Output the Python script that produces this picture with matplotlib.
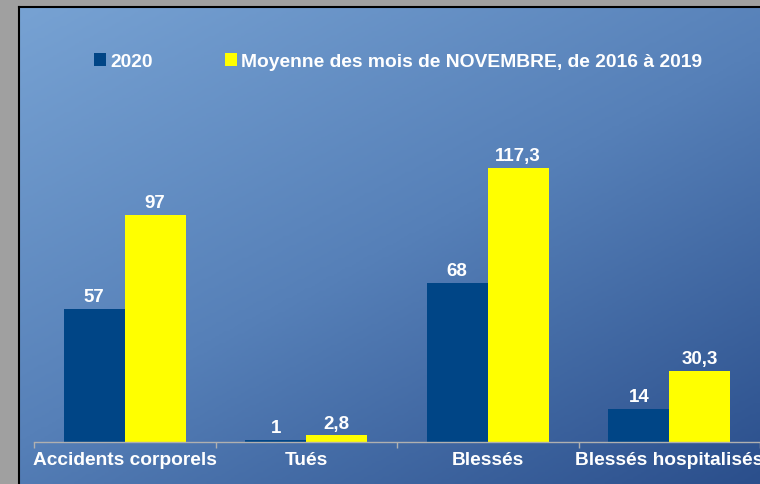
import numpy as np
import matplotlib
matplotlib.use("Agg")
import matplotlib.pyplot as plt
from matplotlib.colors import LinearSegmentedColormap

# données
categories = ["Accidents corporels", "Tués", "Blessés", "Blessés hospitalisés"]
serie_2020 = [57, 1, 68, 14]
serie_moyenne = [97, 2.8, 117.3, 30.3]
labels_2020 = ["57", "1", "68", "14"]
labels_moyenne = ["97", "2,8", "117,3", "30,3"]
legende = ["2020", "Moyenne des mois de NOVEMBRE, de 2016 à 2019"]

W, H = 760, 484
plt.rcParams['font.family'] = ['Liberation Sans', 'DejaVu Sans']

fig = plt.figure(figsize=(W / 100, H / 100), dpi=100, facecolor="#a0a0a0")

# fond en dégradé
bg = fig.add_axes([19 / W, 0, 1 - 19 / W, 1 - 7 / H])
bg.set_zorder(0)
xx, yy = np.meshgrid(np.linspace(0, 1, 200), np.linspace(0, 1, 200))
t = (xx * 0.45 + yy * 0.55)
cmap = LinearSegmentedColormap.from_list("bleu", ["#77a2d3", "#5680b8", "#2b4f8c"])
bg.imshow(t, cmap=cmap, aspect="auto", extent=[0, 1, 1, 0], vmin=0, vmax=1)
bg.set_xlim(0, 1)
bg.set_ylim(1, 0)
bg.set_xticks([])
bg.set_yticks([])
for s in ["right", "bottom"]:
    bg.spines[s].set_visible(False)
for s in ["left", "top"]:
    bg.spines[s].set_color("black")
    bg.spines[s].set_linewidth(1.5)

# graphique
ax_bottom = (H - 442) / H
ax_top = (H - 114.4) / H
ax = fig.add_axes([34 / W, ax_bottom, 1 - 34 / W, ax_top - ax_bottom])
ax.set_zorder(1)
ax.patch.set_alpha(0)

x = np.arange(len(categories))
w = 0.336
b1 = ax.bar(x - w / 2, serie_2020, w, color="#004586", label=legende[0])
b2 = ax.bar(x + w / 2, serie_moyenne, w, color="#ffff00", label=legende[1])

for bars, labs in [(b1, labels_2020), (b2, labels_moyenne)]:
    for rect, lab in zip(bars, labs):
        ax.annotate(lab, (rect.get_x() + rect.get_width() / 2, rect.get_height()),
                    xytext=(0, 2), textcoords="offset points", ha="center", va="bottom",
                    color="white", fontsize=13.5, fontweight="bold")

ax.set_xlim(-0.5, len(categories) - 0.5)
ax.set_ylim(0, 140)
ax.set_yticks([])
ax.set_xticks(np.arange(len(categories) + 1) - 0.5)
ax.set_xticklabels([])
ax.set_xticks(x, minor=True)
ax.set_xticklabels(categories, minor=True, color="white", fontsize=13.8, fontweight="bold")
ax.tick_params(axis="x", which="major", length=4, color="#b0b0b0", width=1)
ax.tick_params(axis="x", which="minor", length=0, pad=7)
for s in ["left", "right", "top"]:
    ax.spines[s].set_visible(False)
ax.spines["bottom"].set_color("#b0b0b0")
ax.spines["bottom"].set_linewidth(1)

leg = fig.legend(handles=[b1, b2], loc="center left", bbox_to_anchor=(77 / W, 1 - 62 / H),
                 ncol=2, frameon=False, handlelength=0.62, handleheight=0.62,
                 handletextpad=0.2, columnspacing=3.75, prop={"size": 13.9, "weight": "bold"})
for txt in leg.get_texts():
    txt.set_color("white")

fig.savefig("out.png", dpi=100, facecolor=fig.get_facecolor())
